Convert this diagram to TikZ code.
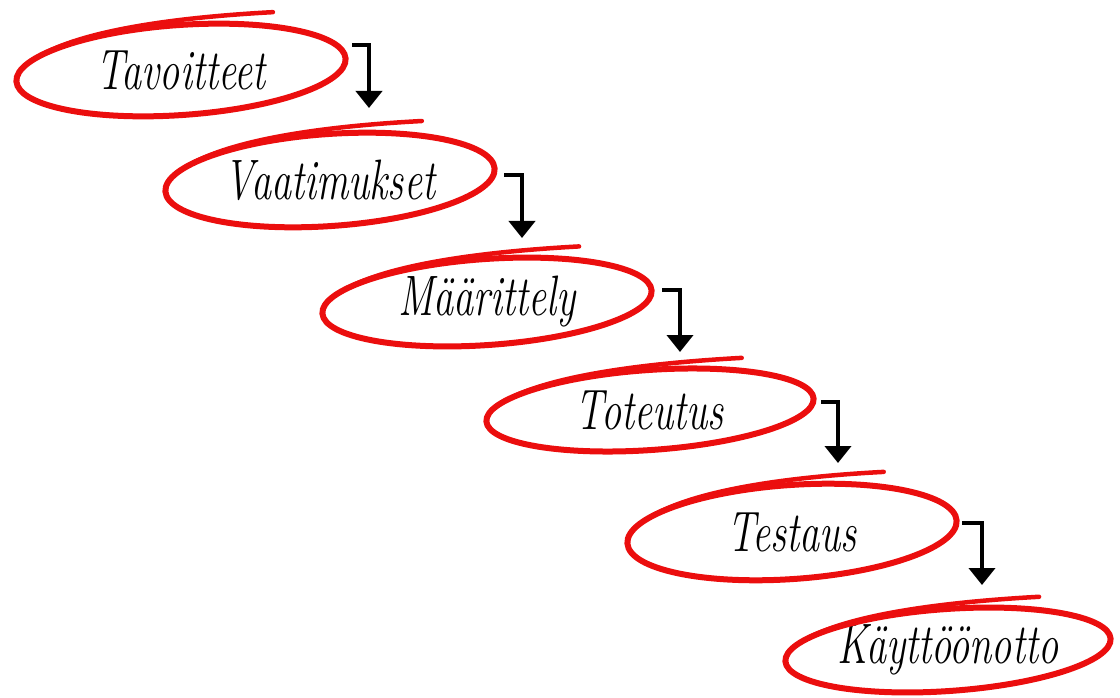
\documentclass[tikz,border=0pt]{standalone}
\usepackage{fontspec}
\usetikzlibrary{arrows.meta,calc}
\definecolor{pen}{RGB}{235,14,14}
\tikzset{
  wordnode/.style={font=\fontsize{38}{40}\selectfont\itshape, inner sep=0pt},
  ring/.style={draw=pen, line width=6pt},
  ringtail/.style={draw=pen, line width=4.5pt, line cap=round},
  flow/.style={draw=black, line width=4pt, line join=miter, -{Triangle[width=26pt,length=17pt]}},
}
\newcommand\ringat[4]{%
  \begin{scope}[shift={(#1.center)}, rotate=#4]
    \draw[ring] (0,0) ellipse [x radius=#2pt, y radius=#3pt];
    \draw[ringtail] ({-0.85*#2},{-0.53*#3}) .. controls ({-0.6*#2},{-0.98*#3}) and ({-0.1*#2},{-1.18*#3}) .. ({0.58*#2},{-1.14*#3});
  \end{scope}}
\begin{document}
\begin{tikzpicture}[x=1pt,y=-1pt]
  \useasboundingbox (0,0) rectangle (1120,698);
  \node[wordnode] (e1) at (181,70)  {\scalebox{1.06}[1.5]{Tavoitteet}};
  \node[wordnode] (e2) at (330,180) {\scalebox{1.06}[1.5]{Vaatimukset}};
  \node[wordnode] (e3) at (487,302) {\scalebox{1.06}[1.5]{Määrittely}};
  \node[wordnode] (e4) at (650,410) {\scalebox{1.06}[1.5]{Toteutus}};
  \node[wordnode] (e5) at (792,532) {\scalebox{1.06}[1.5]{Testaus}};
  \node[wordnode] (e6) at (948,650) {\scalebox{1.06}[1.5]{Käyttöönotto}};
  \ringat{e1}{165}{45}{4}
  \ringat{e2}{165}{46}{4}
  \ringat{e3}{165}{43}{4}
  \ringat{e4}{164}{40}{4}
  \ringat{e5}{165}{47}{4}
  \ringat{e6}{163}{41}{4}
  \coordinate (a1s) at (352,45);  \coordinate (a1t) at (369,108);
  \coordinate (a2s) at (504,175); \coordinate (a2t) at (522,238);
  \coordinate (a3s) at (662,290); \coordinate (a3t) at (680,352);
  \coordinate (a4s) at (821,402); \coordinate (a4t) at (838,463);
  \coordinate (a5s) at (962,523); \coordinate (a5t) at (982,585);
  \draw[flow] (a1s) -| (a1t);
  \draw[flow] (a2s) -| (a2t);
  \draw[flow] (a3s) -| (a3t);
  \draw[flow] (a4s) -| (a4t);
  \draw[flow] (a5s) -| (a5t);
\end{tikzpicture}
\end{document}
